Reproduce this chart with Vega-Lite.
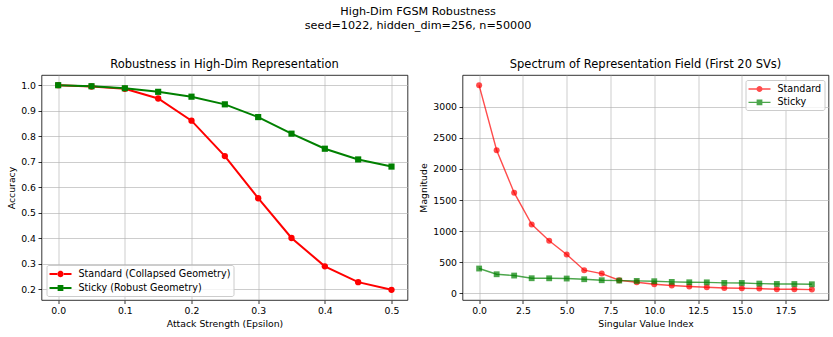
{
  "$schema": "https://vega.github.io/schema/vega-lite/v6.json",
  "background": "white",
  "padding": {"left": 6.5, "top": 6, "right": 0, "bottom": 0},
  "title": {
    "text": ["High-Dim FGSM Robustness", "seed=1022, hidden_dim=256, n=50000"],
    "anchor": "middle",
    "fontSize": 11.2,
    "fontWeight": "normal",
    "font": "DejaVu Sans",
    "color": "black",
    "lineHeight": 14,
    "offset": 26.5
  },
  "config": {
    "font": "DejaVu Sans",
    "view": {"stroke": "black", "strokeWidth": 0.8},
    "title": {"fontSize": 11.5, "fontWeight": "normal", "font": "DejaVu Sans", "color": "black", "offset": 5},
    "axis": {
      "labelFont": "DejaVu Sans",
      "labelFontSize": 9.3,
      "labelColor": "black",
      "titleFont": "DejaVu Sans",
      "titleFontSize": 9.3,
      "titleFontWeight": "normal",
      "titleColor": "black",
      "domain": false,
      "tickColor": "black",
      "tickSize": 3.5,
      "tickWidth": 0.8,
      "grid": true,
      "gridColor": "#b0b0b0",
      "gridOpacity": 0.8,
      "gridWidth": 0.8,
      "labelPadding": 2.5,
      "titlePadding": 4,
      "labelFlush": false
    },
    "legend": {
      "labelFont": "DejaVu Sans",
      "labelFontSize": 9.6,
      "labelColor": "black",
      "fillColor": "rgba(255,255,255,0.8)",
      "strokeColor": "#cccccc",
      "cornerRadius": 2,
      "padding": 3,
      "symbolSize": 144,
      "symbolStrokeWidth": 0,
      "labelOffset": 17,
      "rowPadding": 3,
      "offset": 4.5
    }
  },
  "datasets": {
    "acc": [
      {"eps": 0.0, "method": "Standard (Collapsed Geometry)", "acc": 1.0},
      {"eps": 0.05, "method": "Standard (Collapsed Geometry)", "acc": 0.995},
      {"eps": 0.1, "method": "Standard (Collapsed Geometry)", "acc": 0.986},
      {"eps": 0.15, "method": "Standard (Collapsed Geometry)", "acc": 0.948},
      {"eps": 0.2, "method": "Standard (Collapsed Geometry)", "acc": 0.861},
      {"eps": 0.25, "method": "Standard (Collapsed Geometry)", "acc": 0.722},
      {"eps": 0.3, "method": "Standard (Collapsed Geometry)", "acc": 0.557},
      {"eps": 0.35, "method": "Standard (Collapsed Geometry)", "acc": 0.401},
      {"eps": 0.4, "method": "Standard (Collapsed Geometry)", "acc": 0.29},
      {"eps": 0.45, "method": "Standard (Collapsed Geometry)", "acc": 0.228},
      {"eps": 0.5, "method": "Standard (Collapsed Geometry)", "acc": 0.198},
      {"eps": 0.0, "method": "Sticky (Robust Geometry)", "acc": 1.0},
      {"eps": 0.05, "method": "Sticky (Robust Geometry)", "acc": 0.996},
      {"eps": 0.1, "method": "Sticky (Robust Geometry)", "acc": 0.988},
      {"eps": 0.15, "method": "Sticky (Robust Geometry)", "acc": 0.974},
      {"eps": 0.2, "method": "Sticky (Robust Geometry)", "acc": 0.955},
      {"eps": 0.25, "method": "Sticky (Robust Geometry)", "acc": 0.925},
      {"eps": 0.3, "method": "Sticky (Robust Geometry)", "acc": 0.875},
      {"eps": 0.35, "method": "Sticky (Robust Geometry)", "acc": 0.81},
      {"eps": 0.4, "method": "Sticky (Robust Geometry)", "acc": 0.751},
      {"eps": 0.45, "method": "Sticky (Robust Geometry)", "acc": 0.709},
      {"eps": 0.5, "method": "Sticky (Robust Geometry)", "acc": 0.681}
    ],
    "sv": [
      {"index": 0, "method": "Standard", "magnitude": 3344},
      {"index": 1, "method": "Standard", "magnitude": 2301},
      {"index": 2, "method": "Standard", "magnitude": 1618},
      {"index": 3, "method": "Standard", "magnitude": 1108},
      {"index": 4, "method": "Standard", "magnitude": 844},
      {"index": 5, "method": "Standard", "magnitude": 624},
      {"index": 6, "method": "Standard", "magnitude": 371},
      {"index": 7, "method": "Standard", "magnitude": 317},
      {"index": 8, "method": "Standard", "magnitude": 210},
      {"index": 9, "method": "Standard", "magnitude": 177},
      {"index": 10, "method": "Standard", "magnitude": 145},
      {"index": 11, "method": "Standard", "magnitude": 124},
      {"index": 12, "method": "Standard", "magnitude": 108},
      {"index": 13, "method": "Standard", "magnitude": 97},
      {"index": 14, "method": "Standard", "magnitude": 86},
      {"index": 15, "method": "Standard", "magnitude": 80},
      {"index": 16, "method": "Standard", "magnitude": 75},
      {"index": 17, "method": "Standard", "magnitude": 65},
      {"index": 18, "method": "Standard", "magnitude": 64},
      {"index": 19, "method": "Standard", "magnitude": 59},
      {"index": 0, "method": "Sticky", "magnitude": 398},
      {"index": 1, "method": "Sticky", "magnitude": 306},
      {"index": 2, "method": "Sticky", "magnitude": 285},
      {"index": 3, "method": "Sticky", "magnitude": 242},
      {"index": 4, "method": "Sticky", "magnitude": 241},
      {"index": 5, "method": "Sticky", "magnitude": 237},
      {"index": 6, "method": "Sticky", "magnitude": 226},
      {"index": 7, "method": "Sticky", "magnitude": 210},
      {"index": 8, "method": "Sticky", "magnitude": 204},
      {"index": 9, "method": "Sticky", "magnitude": 199},
      {"index": 10, "method": "Sticky", "magnitude": 194},
      {"index": 11, "method": "Sticky", "magnitude": 183},
      {"index": 12, "method": "Sticky", "magnitude": 177},
      {"index": 13, "method": "Sticky", "magnitude": 176},
      {"index": 14, "method": "Sticky", "magnitude": 167},
      {"index": 15, "method": "Sticky", "magnitude": 166},
      {"index": 16, "method": "Sticky", "magnitude": 156},
      {"index": 17, "method": "Sticky", "magnitude": 150},
      {"index": 18, "method": "Sticky", "magnitude": 149},
      {"index": 19, "method": "Sticky", "magnitude": 145}
    ]
  },
  "spacing": 10,
  "hconcat": [
    {
      "width": 366,
      "height": 225,
      "title": {"text": "Robustness in High-Dim Representation"},
      "data": {"name": "acc"},
      "encoding": {
        "x": {"field": "eps", "type": "quantitative", "scale": {"domain": [-0.025, 0.524], "nice": false, "zero": false}, "axis": {"values": [0, 0.1, 0.2, 0.3, 0.4, 0.5], "format": ".1f", "title": "Attack Strength (Epsilon)"}},
        "y": {"field": "acc", "type": "quantitative", "scale": {"domain": [0.158, 1.04], "nice": false, "zero": false}, "axis": {"values": [0.2, 0.3, 0.4, 0.5, 0.6, 0.7, 0.8, 0.9, 1.0], "format": ".1f", "title": "Accuracy"}}
      },
      "resolve": {"scale": {"color": "independent", "shape": "independent"}, "legend": {"color": "independent", "shape": "independent"}},
      "layer": [
        {"mark": {"type": "line", "strokeWidth": 2},
         "encoding": {"color": {"field": "method", "type": "nominal", "scale": {"domain": ["Standard (Collapsed Geometry)", "Sticky (Robust Geometry)"], "range": ["#ff0000", "#008000"]}, "legend": null}}},
        {"transform": [{"filter": "datum.method === 'Standard (Collapsed Geometry)'"}], "mark": {"type": "point", "shape": "circle", "filled": true, "size": 40, "opacity": 1, "color": "#ff0000"}},
        {"transform": [{"filter": "datum.method === 'Sticky (Robust Geometry)'"}], "mark": {"type": "point", "shape": "square", "filled": true, "size": 38, "opacity": 1, "color": "#008000"}},
        {
          "mark": {"type": "point", "filled": true, "size": 0},
          "encoding": {
            "color": {"field": "method", "type": "nominal", "scale": {"domain": ["Standard (Collapsed Geometry)", "Sticky (Robust Geometry)"], "range": ["#ff0000", "#008000"]}, "legend": {"title": null, "orient": "bottom-left", "symbolOpacity": 1}},
            "shape": {"field": "method", "type": "nominal", "scale": {"domain": ["Standard (Collapsed Geometry)", "Sticky (Robust Geometry)"], "range": [
              "M-1,-0.167H0.28V0.167H-1Z M1.39,-0.167H2.667V0.167H1.39Z M1.35,0A0.517,0.517,0,1,1,0.317,0A0.517,0.517,0,1,1,1.35,0Z",
              "M-1,-0.167H0.35V0.167H-1Z M1.32,-0.167H2.667V0.167H1.32Z M0.353,-0.48H1.313V0.48H0.353Z"
            ]}, "legend": {"title": null, "orient": "bottom-left", "symbolOpacity": 1}}
          }
        }
      ]
    },
    {
      "width": 366,
      "height": 225,
      "title": {"text": "Spectrum of Representation Field (First 20 SVs)"},
      "data": {"name": "sv"},
      "encoding": {
        "x": {"field": "index", "type": "quantitative", "scale": {"domain": [-0.95, 19.95], "nice": false, "zero": false}, "axis": {"values": [0, 2.5, 5, 7.5, 10, 12.5, 15, 17.5], "format": ".1f", "title": "Singular Value Index"}},
        "y": {"field": "magnitude", "type": "quantitative", "scale": {"domain": [-108, 3510], "nice": false, "zero": false}, "axis": {"values": [0, 500, 1000, 1500, 2000, 2500, 3000], "format": "d", "title": "Magnitude"}}
      },
      "resolve": {"scale": {"color": "independent", "shape": "independent"}, "legend": {"color": "independent", "shape": "independent"}},
      "layer": [
        {"transform": [{"filter": "datum.method === 'Standard'"}], "mark": {"type": "line", "strokeWidth": 1.4, "opacity": 0.7, "color": "#ff0000"}},
        {"transform": [{"filter": "datum.method === 'Standard'"}], "mark": {"type": "point", "shape": "circle", "filled": true, "size": 36, "opacity": 0.7, "color": "#ff0000"}},
        {"transform": [{"filter": "datum.method === 'Sticky'"}], "mark": {"type": "line", "strokeWidth": 1.4, "opacity": 0.7, "color": "#008000"}},
        {"transform": [{"filter": "datum.method === 'Sticky'"}], "mark": {"type": "point", "shape": "square", "filled": true, "size": 34, "opacity": 0.7, "color": "#008000"}},
        {
          "mark": {"type": "point", "filled": true, "size": 0},
          "encoding": {
            "color": {"field": "method", "type": "nominal", "scale": {"domain": ["Standard", "Sticky"], "range": ["#ff0000", "#008000"]}, "legend": {"title": null, "orient": "top-right", "symbolOpacity": 0.7, "rowPadding": 2.3}},
            "shape": {"field": "method", "type": "nominal", "scale": {"domain": ["Standard", "Sticky"], "range": [
              "M-1,-0.11H0.35V0.11H-1Z M1.32,-0.11H2.667V0.11H1.32Z M1.333,0A0.5,0.5,0,1,1,0.333,0A0.5,0.5,0,1,1,1.333,0Z",
              "M-1,-0.11H0.37V0.11H-1Z M1.3,-0.11H2.667V0.11H1.3Z M0.353,-0.48H1.313V0.48H0.353Z"
            ]}, "legend": {"title": null, "orient": "top-right", "symbolOpacity": 0.7, "rowPadding": 2.3}}
          }
        }
      ]
    }
  ]
}
